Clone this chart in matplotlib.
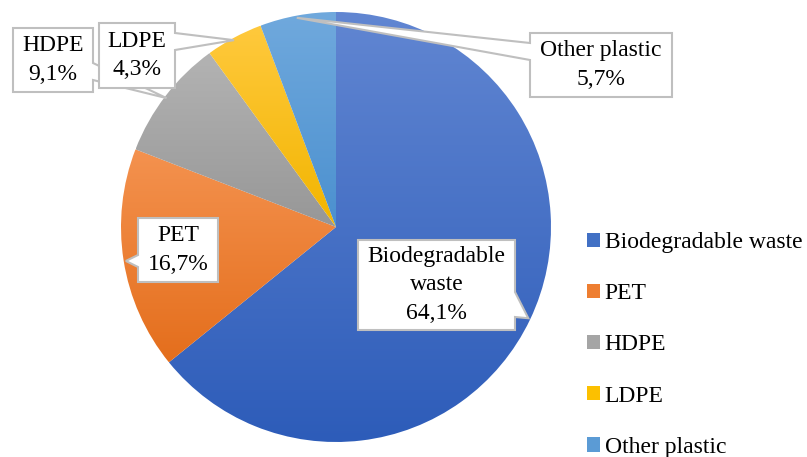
import numpy as np
import matplotlib
matplotlib.use('Agg')
import matplotlib.pyplot as plt
from matplotlib.patches import Polygon, Patch
from matplotlib.colors import LinearSegmentedColormap

labels = ['Biodegradable waste', 'PET', 'HDPE', 'LDPE', 'Other plastic']
box_labels = ['Biodegradable\nwaste', 'PET', 'HDPE', 'LDPE', 'Other plastic']
values = [64.1, 16.7, 9.1, 4.3, 5.7]
# light (top) -> dark (bottom) gradient colours
top_colors = ['#6186d2', '#f4924f', '#b3b3b3', '#ffc93d', '#70a9dd']
bot_colors = ['#2d5cb9', '#e46e1c', '#979797', '#f2b500', '#4b90cf']
leg_colors = ['#4170c4', '#ee7e31', '#a5a5a5', '#fcc000', '#5b9bd5']

W, H = 807, 457
plt.rcParams['font.family'] = ['Liberation Serif', 'DejaVu Serif']
fs = 17

fig = plt.figure(figsize=(W / 100, H / 100), dpi=100)
ax = fig.add_axes([0, 0, 1, 1])

cx, cy, R = 336, 230, 215
wedges, _ = ax.pie(values, startangle=90, counterclock=False,
                   center=(cx, cy), radius=R, frame=True,
                   wedgeprops=dict(linewidth=0))
ax.set_xlim(0, W)
ax.set_ylim(0, H)
ax.axis('off')

# gradient fill clipped to each wedge
grad = np.linspace(0, 1, 256).reshape(-1, 1)
for w, c0, c1 in zip(wedges, top_colors, bot_colors):
    w.set_facecolor('none')
    ext = w.get_extents().transformed(ax.transData.inverted())
    cmap = LinearSegmentedColormap.from_list('g', [c0, c1])
    im = ax.imshow(grad, cmap=cmap, aspect='auto', origin='upper',
                   extent=[ext.x0, ext.x1, ext.y0, ext.y1], zorder=1)
    im.set_clip_path(w)
ax.set_xlim(0, W)
ax.set_ylim(0, H)


def callout(box, side, b0, b1, tip, text, z):
    # box = (x0, y0, x1, y1) in pixels from top; tail on given side
    x0, y0, x1, y1 = box
    Y = lambda y: H - y
    if side == 'left':
        pts = [(x0, y0), (x1, y0), (x1, y1), (x0, y1), (x0, b1), tip, (x0, b0)]
    else:
        pts = [(x0, y0), (x1, y0), (x1, b0), tip, (x1, b1), (x1, y1), (x0, y1)]
    pts = [(p[0], Y(p[1])) for p in pts]
    ax.add_patch(Polygon(pts, closed=True, facecolor='white',
                         edgecolor='#bfbfbf', linewidth=1.5, zorder=z))
    ax.text((x0 + x1) / 2, Y((y0 + y1) / 2), text, ha='center', va='center',
            fontsize=fs, zorder=z + 0.5, linespacing=1.45)


# tail tips at the middle of each wedge, just inside the rim
cum = np.cumsum([0] + values)
mids = 90 - (cum[:-1] + cum[1:]) / 2 * 3.6
tips = [(cx + 0.99 * R * np.cos(np.radians(a)), H - (cy + 0.99 * R * np.sin(np.radians(a))))
        for a in mids]

pct = ['{:.1f}%'.format(v).replace('.', ',') for v in values]
callout((358, 240, 515, 330), 'right', 292, 317, tips[0], box_labels[0] + '\n' + pct[0], 3)
callout((138, 218, 218, 282), 'left', 255, 267, tips[1], box_labels[1] + '\n' + pct[1], 3)
callout((13, 28, 93, 92), 'right', 63, 80, tips[2], box_labels[2] + '\n' + pct[2], 3)
callout((99, 23, 175, 88), 'right', 33, 50, tips[3], box_labels[3] + '\n' + pct[3], 5)
callout((530, 33, 672, 97), 'left', 43, 60, tips[4], box_labels[4] + '\n' + pct[4], 3)

handles = [Patch(facecolor=c, edgecolor='none') for c in leg_colors]
ax.legend(handles, labels, loc='upper left', bbox_to_anchor=(587 / W, 1 - 232 / H),
          frameon=False, fontsize=fs, handlelength=0.55, handleheight=0.55,
          handletextpad=0.2, labelspacing=1.28, borderaxespad=0, borderpad=0)

fig.savefig('out.png', dpi=100)
